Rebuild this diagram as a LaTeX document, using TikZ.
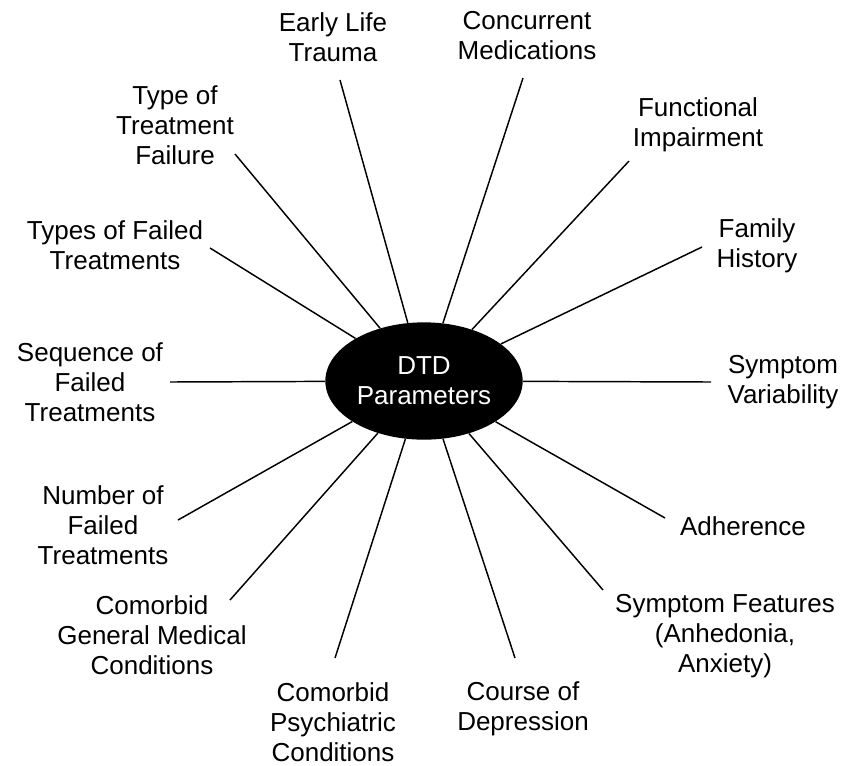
\documentclass[tikz,border=0pt]{standalone}
\usepackage{fontspec}
\setmainfont{Liberation Sans}
\usepackage{tikz}
\usetikzlibrary{shapes}

\begin{document}
\begin{tikzpicture}[x=0.75pt,y=-0.75pt,
		elli/.style={ellipse,fill=black,text=white,align=center,
			minimum width=148pt,minimum height=88pt,inner sep=0pt,
			font=\fontsize{19.5}{22.5}\selectfont},
		lbl/.style={align=center,inner sep=0pt,font=\fontsize{19.5}{22.5}\selectfont},
		spoke/.style={line width=1.1pt}]
	\useasboundingbox (0,0) rectangle (855,765);
	\node[elli] (dtd) at (424,381) {DTD\\Parameters};
	% labels round the hub
	\node[lbl] (early) at (333,37) {Early Life\\Trauma};
	\node[lbl] (concur) at (527,36) {Concurrent\\Medications};
	\node[lbl] (typefail) at (175,125) {Type of\\Treatment\\Failure};
	\node[lbl] (funct) at (698,125) {Functional\\Impairment};
	\node[lbl] (typesfailed) at (115,245) {Types of Failed\\Treatments};
	\node[lbl] (family) at (757,246) {Family\\History};
	\node[lbl] (sequence) at (90,382) {Sequence of\\Failed\\Treatments};
	\node[lbl] (variab) at (783,382) {Symptom\\Variability};
	\node[lbl] (number) at (103,525) {Number of\\Failed\\Treatments};
	\node[lbl] (adher) at (743,526) {Adherence};
	\node[lbl] (medical) at (152,635) {Comorbid\\General Medical\\Conditions};
	\node[lbl] (features) at (725,636) {Symptom Features\\(Anhedonia,\\Anxiety)};
	\node[lbl] (psych) at (333,722) {Comorbid\\Psychiatric\\Conditions};
	\node[lbl] (course) at (523,709) {Course of\\Depression};
	% free ends of the spokes
	\coordinate (early-end) at (340,80);
	\coordinate (concur-end) at (523,78);
	\coordinate (typefail-end) at (235,154);
	\coordinate (funct-end) at (629,161);
	\coordinate (typesfailed-end) at (210,248);
	\coordinate (family-end) at (702,247);
	\coordinate (sequence-end) at (170,382);
	\coordinate (variab-end) at (711,382);
	\coordinate (number-end) at (178,520);
	\coordinate (adher-end) at (665,518);
	\coordinate (medical-end) at (230,600);
	\coordinate (features-end) at (603,590);
	\coordinate (psych-end) at (335,658);
	\coordinate (course-end) at (515,658);
	\foreach \n in {early,concur,typefail,funct,typesfailed,family,sequence,variab,number,adher,medical,features,psych,course}
		\draw[spoke] (dtd) -- (\n-end);
\end{tikzpicture}
\end{document}
